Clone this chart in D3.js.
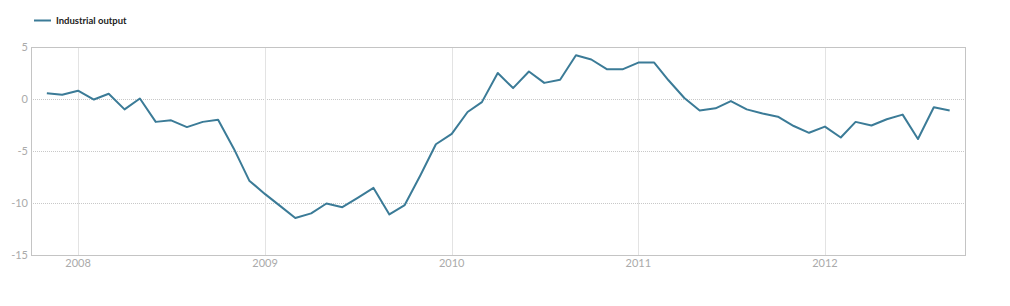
<!DOCTYPE html>
<html>
<head>
<meta charset="utf-8">
<script src="https://cdn.jsdelivr.net/npm/d3@7"></script>
<style>
  body { margin: 0; background: #fff; }
  svg { display: block; font-family: Lato, "Open Sans", sans-serif; }
</style>
</head>
<body>
<div id="chart"></div>
<script>
// monthly values, Nov 2007 - Sep 2012
var startMonth = [2007, 10];
var values = [
  0.55, 0.4, 0.8, -0.05, 0.5, -1.0, 0.05, -2.2, -2.05, -2.7,
  -2.2, -2.0, -4.8, -7.85, -9.15, -10.35, -11.45, -11.0, -10.05, -10.4,
  -9.5, -8.55, -11.1, -10.2, -7.3, -4.35, -3.35, -1.25, -0.3, 2.5,
  1.05, 2.65, 1.55, 1.85, 4.2, 3.8, 2.85, 2.85, 3.5, 3.5,
  1.8, 0.1, -1.1, -0.9, -0.2, -1.0, -1.4, -1.7, -2.6, -3.25,
  -2.65, -3.7, -2.2, -2.55, -1.95, -1.5, -3.85, -0.8, -1.1
];
var yTicks = [5, 0, -5, -10, -15];
var yearTicks = [2008, 2009, 2010, 2011, 2012];
var seriesName = "Industrial output";

var data = values.map(function(v, i) {
  return { date: new Date(startMonth[0], startMonth[1] + i, 1), value: v };
});

var width = 1010, height = 306;
var plotLeft = 31, plotRight = 965, plotTop = 47, plotBottom = 255;

var svg = d3.select("#chart").append("svg")
    .attr("width", width).attr("height", height);

var x = d3.scaleTime()
    .domain([new Date(2007, 9, 1), new Date(2012, 9, 1)])
    .range([plotLeft, plotRight]);
var y = d3.scaleLinear().domain([-15, 5]).range([plotBottom, plotTop]);

// horizontal grid (dotted)
svg.append("g")
  .selectAll("line")
  .data(yTicks.filter(function(d) { return d !== 5 && d !== -15; }))
  .enter().append("line")
    .attr("x1", plotLeft).attr("x2", plotRight)
    .attr("y1", function(d) { return Math.round(y(d)) + 0.5; })
    .attr("y2", function(d) { return Math.round(y(d)) + 0.5; })
    .attr("stroke", "#c8c8c8")
    .attr("stroke-dasharray", "1,1");

// vertical grid at years
svg.append("g")
  .selectAll("line")
  .data(yearTicks)
  .enter().append("line")
    .attr("x1", function(d) { return Math.round(x(new Date(d, 0, 1))) + 0.5; })
    .attr("x2", function(d) { return Math.round(x(new Date(d, 0, 1))) + 0.5; })
    .attr("y1", plotTop).attr("y2", plotBottom)
    .attr("stroke", "#e3e3e3");

// frame
svg.append("rect")
    .attr("x", plotLeft + 0.5).attr("y", plotTop + 0.5)
    .attr("width", plotRight - plotLeft).attr("height", plotBottom - plotTop)
    .attr("fill", "none")
    .attr("stroke", "#c4c4c4");

// y labels
svg.append("g")
  .selectAll("text")
  .data(yTicks)
  .enter().append("text")
    .attr("x", plotLeft - 3)
    .attr("y", function(d) { return y(d) + 4; })
    .attr("text-anchor", "end")
    .attr("font-size", "11px")
    .attr("fill", "#aaaaaa")
    .text(function(d) { return d; });

// x labels
svg.append("g")
  .selectAll("text")
  .data(yearTicks)
  .enter().append("text")
    .attr("x", function(d) { return x(new Date(d, 0, 1)); })
    .attr("y", plotBottom + 12)
    .attr("text-anchor", "middle")
    .attr("font-size", "11px")
    .attr("fill", "#aaaaaa")
    .text(function(d) { return d; });

// series line
var line = d3.line()
    .x(function(d) { return x(d.date); })
    .y(function(d) { return y(d.value); });

svg.append("path")
    .datum(data)
    .attr("d", line)
    .attr("fill", "none")
    .attr("stroke", "#3b7b97")
    .attr("stroke-width", 2)
    .attr("stroke-linejoin", "round");

// legend
var legend = svg.append("g");
legend.append("line")
    .attr("x1", 34).attr("x2", 51)
    .attr("y1", 20.5).attr("y2", 20.5)
    .attr("stroke", "#3b7b97")
    .attr("stroke-width", 2);
legend.append("text")
    .attr("x", 56).attr("y", 23.5)
    .attr("font-size", "9.5px")
    .attr("font-weight", "bold")
    .attr("fill", "#222")
    .text(seriesName);
</script>
</body>
</html>
